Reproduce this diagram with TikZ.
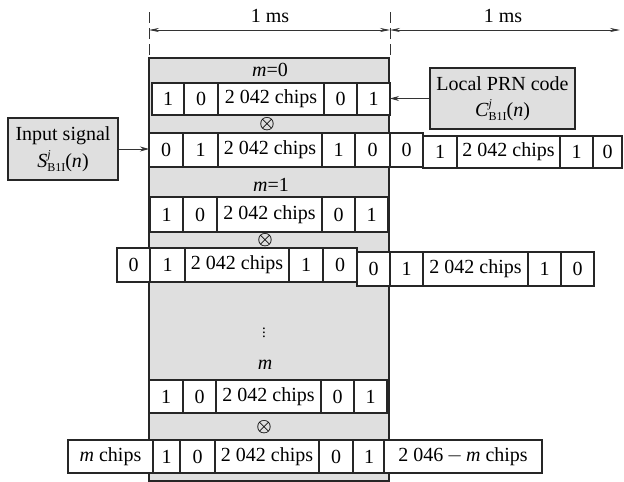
\documentclass[tikz,border=0pt]{standalone}
\usepackage{fontspec}
\setmainfont{Liberation Serif}
\usetikzlibrary{arrows.meta}
\tikzset{
  cell/.style={draw=black!85, line width=1.5pt, fill=white, inner sep=0pt, outer sep=0pt, font=\fontsize{20}{24}\selectfont},
  lbl/.style={font=\fontsize{20}{24}\selectfont, inner sep=0pt},
  otim/.style={font=\fontsize{18}{20}\selectfont\boldmath, inner sep=0pt},
  graybox/.style={draw=black!85, line width=1.5pt, fill=gray!25},
  arr/.style={-{Stealth[length=9pt,width=5pt]}, line width=0.8pt, draw=black!80},
  dimline/.style={{Stealth[length=10pt,width=4pt]}-{Stealth[length=10pt,width=4pt]}, line width=0.7pt, draw=black!80},
  tickline/.style={line width=0.7pt, draw=black!80, dash pattern=on 11pt off 5pt},
}
\newcommand\chiprow[4]{%
  \foreach \l/\r/\t [count=\i] in {#4} {
    \pgfmathsetmacro\w{\r-\l}
    \pgfmathsetmacro\h{#3-#2}
    \pgfmathsetmacro\cx{(\l+\r)/2}
    \pgfmathsetmacro\cy{(#2+#3)/2}
    \node[cell, minimum width=\w pt, minimum height=\h pt] (#1\i) at (\cx,\cy) {\t};
  }}
\newcommand\sigsym[1]{\textit{#1}\makebox[0pt][l]{\raisebox{9pt}{\fontsize{12}{12}\selectfont\textit{j}}}\raisebox{-4pt}{\fontsize{12}{12}\selectfont B1I}(\textit{n})}
\begin{document}
\begin{tikzpicture}[x=1pt,y=-1pt]
\useasboundingbox (0,0) rectangle (624,482);
% dimension lines
\coordinate (d1) at (149,30);
\coordinate (d2) at (390,30);
\coordinate (d3) at (620,30);
\coordinate (t1a) at (149,12); \coordinate (t1b) at (149,58);
\coordinate (t2a) at (390,12); \coordinate (t2b) at (390,58);
\draw[tickline] (t1a) -- (t1b);
\draw[tickline] (t2a) -- (t2b);
\draw[dimline] (d1) -- (d2);
\draw[dimline] (d2) -- (d3);
\node[lbl] (ms1) at (270,16) {1 ms};
\node[lbl] (ms2) at (503,16) {1 ms};
% gray frame
\node[graybox, minimum width=240pt, minimum height=423pt, inner sep=0pt, outer sep=0pt] (frame) at (269,269.5) {};
% labels inside
\node[lbl] (m0) at (270,70) {\textit{m}=0};
\node[otim] (x1) at (267,124) {$\otimes$};
\node[lbl] (m1) at (271,185) {\textit{m}=1};
\node[otim] (x2) at (265,240) {$\otimes$};
\node[lbl, font=\fontsize{15}{18}\selectfont] (vd) at (264,330) {$\vdots$};
\node[lbl] (mm) at (265,365) {\textit{m}};
\node[otim] (x3) at (264,427) {$\otimes$};
% rows
\chiprow{ra}{83}{115}{152/184/1, 184/218/0, 218/324/{2 042 chips}, 324/357/0, 357/390/1}
\chiprow{rb}{133}{167}{149/183/0, 183/218/1, 218/322/{2 042 chips}, 322/355/1, 355/390/0, 390/423/0}
\chiprow{rc}{136}{168}{423/457/1, 457/560/{2 042 chips}, 560/593/1, 593/622/0}
\chiprow{rd}{197}{232}{150/183/1, 183/217/0, 217/322/{2 042 chips}, 322/355/0, 355/388/1}
\chiprow{re}{248}{282}{117/150/0, 150/185/1, 185/289/{2 042 chips}, 289/323/1, 323/357/0}
\chiprow{rf}{252}{286}{357/390/0, 390/423/1, 423/528/{2 042 chips}, 528/561/1, 561/594/0}
\chiprow{rg}{380}{413}{149/183/1, 183/216/0, 216/321/{2 042 chips}, 321/354/0, 354/387/1}
\chiprow{rh}{440}{473}{68/153/{\textit{m} chips}, 153/180/1, 180/215/0, 215/319/{2 042 chips}, 319/353/0, 353/385/1, 384/542/{2 046\,$-$\,\textit{m} chips}}
% side boxes
\node[graybox, minimum width=110pt, minimum height=62pt, inner sep=0pt, align=center, font=\fontsize{20}{27}\selectfont] (inp) at (63,149)
  {Input signal\\\sigsym{S}};
\node[graybox, minimum width=145pt, minimum height=61pt, inner sep=0pt, align=center, font=\fontsize{20}{26}\selectfont] (loc) at (502.5,98.5)
  {Local PRN code\\\sigsym{C}};
\draw[arr] (inp.east) -- (inp.east -| rb1.west);
\draw[arr] (loc.west) -- (loc.west -| ra5.east);
\end{tikzpicture}
\end{document}
